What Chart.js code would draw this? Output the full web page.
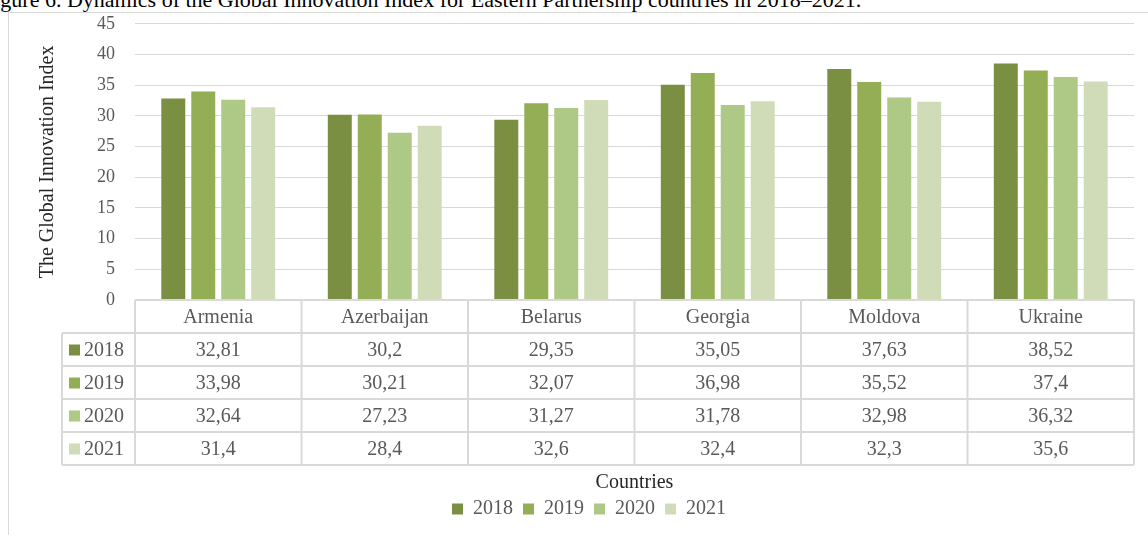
<!DOCTYPE html>
<html>
<head>
  <title>Global Innovation Index</title>
  <script src="https://cdn.jsdelivr.net/npm/chart.js"></script>
  <style>
    body { margin: 0; background: #fff; overflow: hidden; width: 1148px; height: 535px; position: relative; }
    #caption { position: absolute; left: -18px; top: -11px; font: 22px "Liberation Serif", serif; line-height: 22px; color: #000; white-space: nowrap; }
    #frame { position: absolute; left: 8px; top: 12px; width: 1140px; height: 523px; border-left: 1px solid #d9d9d9; border-top: 1px solid #d9d9d9; }
    #giiChart { position: absolute; left: 9px; top: -7px; }
  </style>
</head>
<body>
  <div id="caption">Figure 6. Dynamics of the Global Innovation Index for Eastern Partnership countries in 2018–2021.</div>
  <div id="frame"></div>
  <canvas id="giiChart" width="1139" height="542"></canvas>

  <script>
    // values
    const countries = ['Armenia', 'Azerbaijan', 'Belarus', 'Georgia', 'Moldova', 'Ukraine'];
    const years = ['2018', '2019', '2020', '2021'];
    const gii2018 = [32.81, 30.2, 29.35, 35.05, 37.63, 38.52];
    const gii2019 = [33.98, 30.21, 32.07, 36.98, 35.52, 37.4];
    const gii2020 = [32.64, 27.23, 31.27, 31.78, 32.98, 36.32];
    const gii2021 = [31.4, 28.4, 32.6, 32.4, 32.3, 35.6];
    const yMax = 45;
    const yStep = 5;

    const seriesValues = [gii2018, gii2019, gii2020, gii2021];
    const colors = ['#7b8f42', '#93ae55', '#aec885', '#cfdcb7'];
    const serif = '"Liberation Serif", "Times New Roman", serif';
    const textGray = '#595959';

    // draws the data table below the plot, columns follow the x scale
    const dataTable = {
      id: 'dataTable',
      afterDraw(chart) {
        const { ctx, chartArea, scales: { x } } = chart;
        const rowH = 33;
        const top = chartArea.bottom;
        const bottom = top + rowH * 5;
        const labelLeft = 53;
        const colW = (x.right - x.left) / countries.length;

        ctx.save();
        ctx.strokeStyle = '#d9d9d9';
        ctx.lineWidth = 2;
        ctx.beginPath();
        ctx.moveTo(x.left, top); ctx.lineTo(x.right, top);
        for (let k = 1; k <= 5; k++) {
          ctx.moveTo(labelLeft, top + rowH * k); ctx.lineTo(x.right, top + rowH * k);
        }
        for (let j = 0; j <= countries.length; j++) {
          ctx.moveTo(x.left + colW * j, top); ctx.lineTo(x.left + colW * j, bottom);
        }
        ctx.moveTo(labelLeft, top + rowH); ctx.lineTo(labelLeft, bottom);
        ctx.stroke();

        ctx.font = '20px ' + serif;
        ctx.fillStyle = textGray;
        ctx.textAlign = 'center';
        ctx.textBaseline = 'middle';
        countries.forEach((c, i) => {
          ctx.fillText(c, x.getPixelForValue(i), top + rowH / 2 + 1);
        });
        seriesValues.forEach((vals, r) => {
          const cy = top + rowH * (r + 1) + rowH / 2 + 1;
          vals.forEach((v, i) => {
            ctx.fillText(String(v).replace('.', ','), x.getPixelForValue(i), cy);
          });
          ctx.fillStyle = colors[r];
          ctx.fillRect(labelLeft + 7, cy - 6, 11, 11);
          ctx.fillStyle = textGray;
          ctx.textAlign = 'left';
          ctx.fillText(years[r], labelLeft + 22, cy);
          ctx.textAlign = 'center';
        });
        ctx.restore();
      }
    };

    new Chart(document.getElementById('giiChart'), {
      type: 'bar',
      data: {
        labels: countries,
        datasets: years.map((y, i) => ({
          label: y,
          data: seriesValues[i],
          backgroundColor: colors[i],
          borderWidth: 0,
          categoryPercentage: 0.72,
          barPercentage: 0.8
        }))
      },
      options: {
        responsive: false,
        animation: false,
        layout: { padding: { top: 10, right: 14, left: 35, bottom: 6 } },
        plugins: {
          tooltip: { enabled: false },
          legend: {
            position: 'bottom',
            labels: {
              boxWidth: 11,
              boxHeight: 11,
              padding: 10,
              color: textGray,
              font: { family: serif, size: 20 }
            }
          }
        },
        scales: {
          x: {
            grid: { display: false },
            border: { display: false },
            ticks: { display: false },
            title: {
              display: true,
              text: 'Countries',
              color: '#262626',
              font: { family: serif, size: 20 },
              padding: { top: 0, bottom: -6 }
            },
            afterFit(scale) { scale.height = 189; }
          },
          y: {
            min: 0,
            max: yMax,
            ticks: {
              stepSize: yStep,
              padding: 20,
              color: textGray,
              font: { family: serif, size: 18 }
            },
            grid: { color: '#d9d9d9', lineWidth: 1, drawTicks: false },
            border: { display: false },
            title: {
              display: true,
              text: 'The Global Innovation Index',
              color: '#262626',
              font: { family: serif, size: 20 },
              padding: { top: -8, bottom: 0 }
            },
            afterFit(scale) { scale.width = 91; }
          }
        }
      },
      plugins: [dataTable]
    });
  </script>
</body>
</html>
